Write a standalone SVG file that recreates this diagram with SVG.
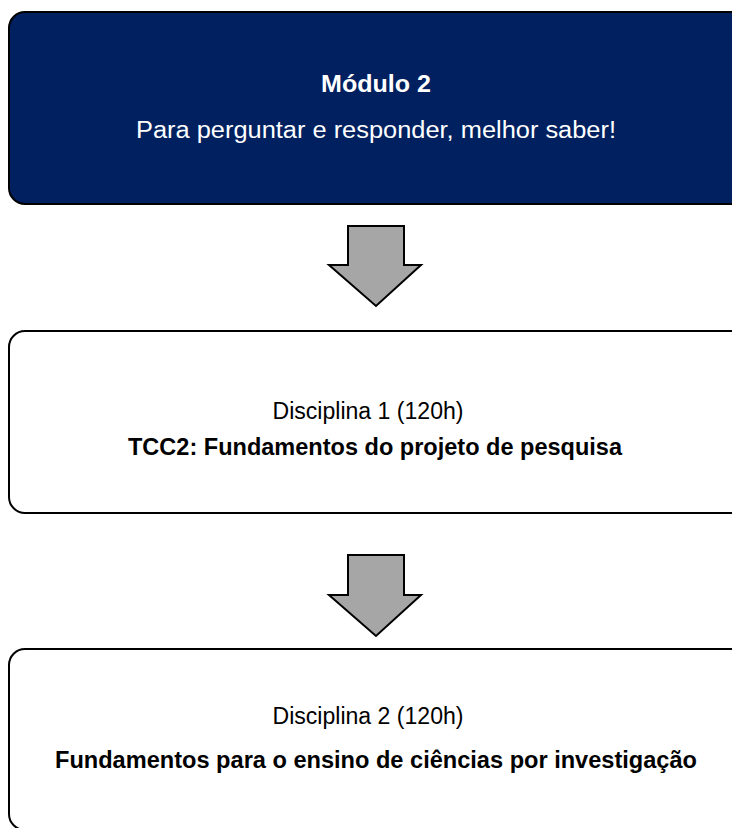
<svg xmlns="http://www.w3.org/2000/svg" width="732" height="828" viewBox="0 0 732 828">
  <defs>
    <style>
      .box-dark { fill: #002060; stroke: #000000; stroke-width: 2; }
      .box-light { fill: #ffffff; stroke: #000000; stroke-width: 2; }
      .arrow { fill: #A6A6A6; stroke: #000000; stroke-width: 2; stroke-linejoin: miter; }
      .t { font-family: "Liberation Sans", Arial, sans-serif; font-size: 23px; text-anchor: middle; }
      .b { font-weight: bold; }
      .w { fill: #ffffff; }
      .k { fill: #000000; }
    </style>
  </defs>
  <rect width="732" height="828" fill="#ffffff"/>
  <g id="node-modulo2">
    <rect class="box-dark" x="9" y="12" width="740" height="192" rx="16" ry="16"/>
    <text class="t b w" x="376" y="92" textLength="110" lengthAdjust="spacingAndGlyphs">Módulo 2</text>
    <text class="t w" x="376" y="138" textLength="480" lengthAdjust="spacingAndGlyphs">Para perguntar e responder, melhor saber!</text>
  </g>
  <g id="connectors">
    <polygon class="arrow" points="348,226 404,226 404,265 421,265 376,306 329,265 348,265"/>
    <polygon class="arrow" points="348,555 404,555 404,595 421,595 376,636 329,595 348,595"/>
  </g>
  <g id="node-disciplina1">
    <rect class="box-light" x="9" y="331" width="740" height="182" rx="16" ry="16"/>
    <text class="t k" x="368" y="419" textLength="191" lengthAdjust="spacingAndGlyphs">Disciplina 1 (120h)</text>
    <text class="t b k" x="375" y="455" textLength="494" lengthAdjust="spacingAndGlyphs">TCC2: Fundamentos do projeto de pesquisa</text>
  </g>
  <g id="node-disciplina2">
    <rect class="box-light" x="9" y="649" width="740" height="181" rx="16" ry="16"/>
    <text class="t k" x="368" y="724" textLength="191" lengthAdjust="spacingAndGlyphs">Disciplina 2 (120h)</text>
    <text class="t b k" x="376" y="768" textLength="642" lengthAdjust="spacingAndGlyphs">Fundamentos para o ensino de ciências por investigação</text>
  </g>
</svg>
